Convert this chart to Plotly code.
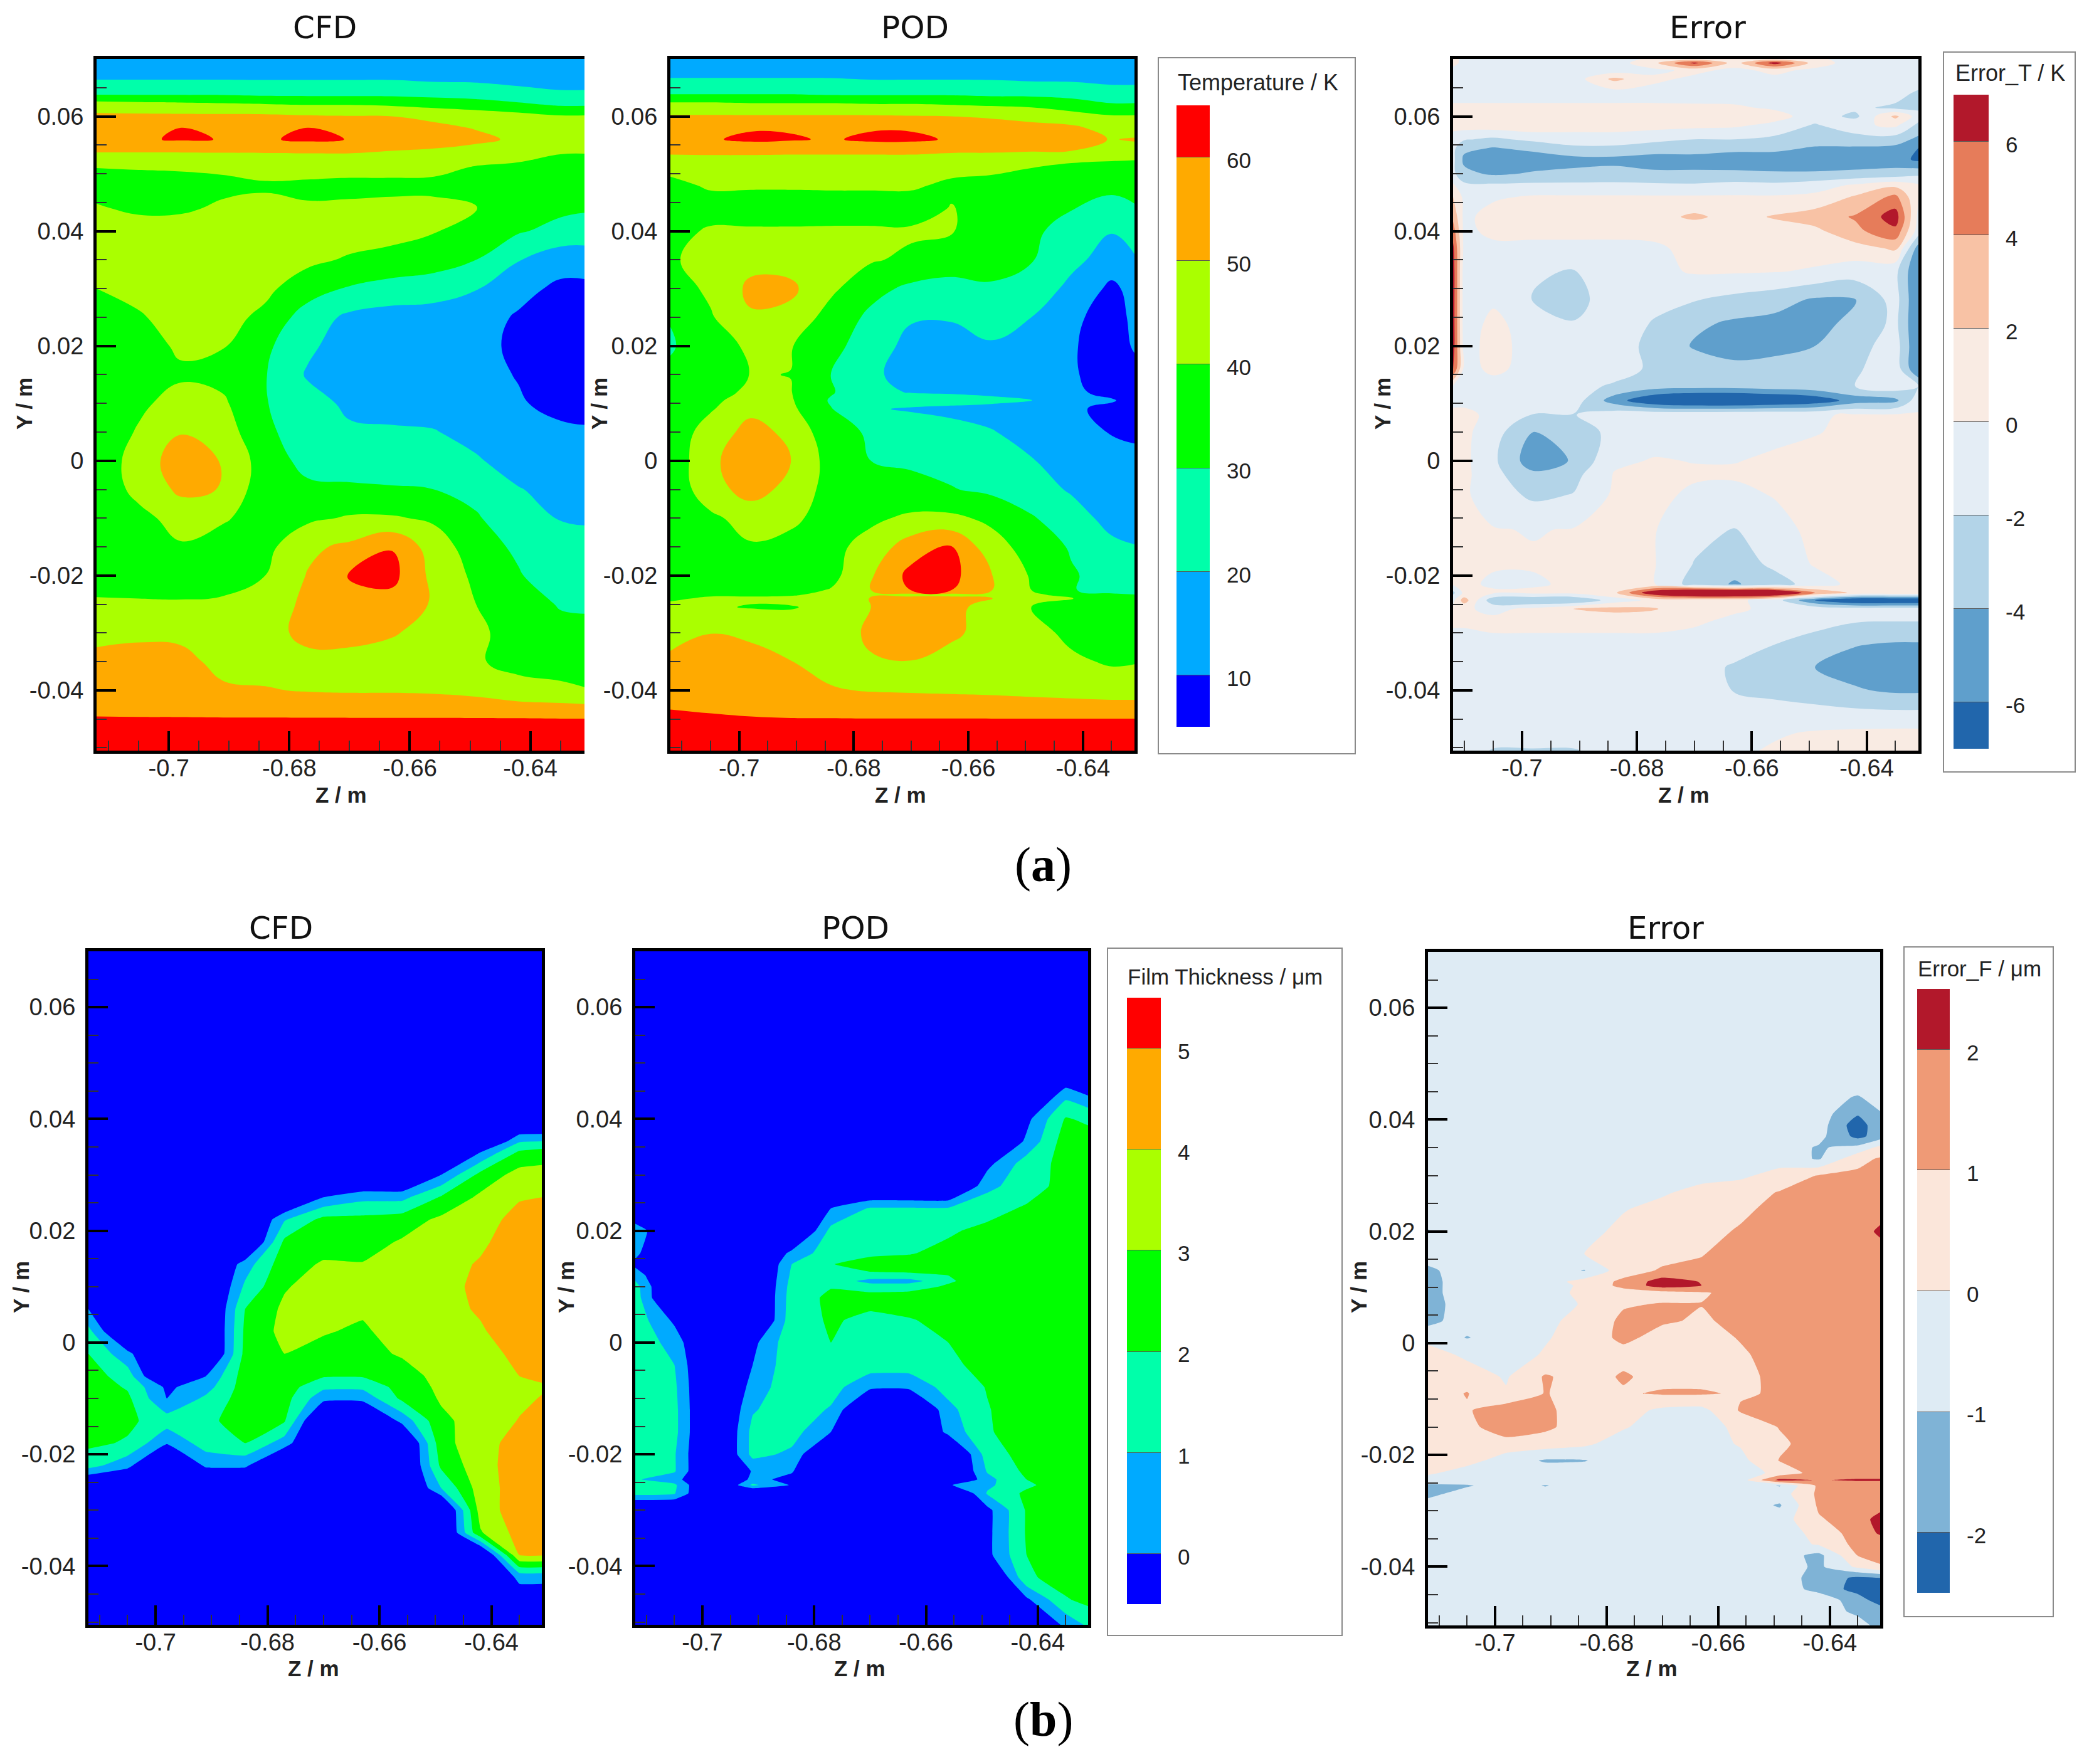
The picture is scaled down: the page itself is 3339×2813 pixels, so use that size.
import plotly.graph_objects as go

W, H = 3339, 2813

# shared grid for the panels (Z / m)
z_grid = [-.712, -.705, -.698, -.691, -.684, -.677, -.670, -.663, -.656, -.649, -.642, -.635, -.631]
z_grid_err = [-.712, -.7101, -.705, -.698, -.691, -.684, -.677, -.670, -.663, -.656, -.649, -.642, -.635, -.631]

x_ticks = [-.7, -.68, -.66, -.64]
x_tick_labels = ['-0.7', '-0.68', '-0.66', '-0.64']
y_ticks = [.06, .04, .02, 0, -.02, -.04]
y_tick_labels = ['0.06', '0.04', '0.02', '0', '-0.02', '-0.04']

temp_levels = [10, 20, 30, 40, 50, 60]
film_levels = [0, 1, 2, 3, 4, 5]
err_t_levels = [-6, -4, -2, 0, 2, 4, 6]
err_f_levels = [-2, -1, 0, 1, 2]

jet_colors = ['#0000ff', '#00aaff', '#00ffaa', '#00ff00', '#aaff00', '#ffaa00', '#ff0000']
err_t_colors = ['#2166ac', '#5f9fcc', '#b3d4e8', '#e4edf5', '#f9ebe3', '#f8c2a5', '#e67c5a', '#b2182b']
err_f_colors = ['#2166ac', '#7fb3d6', '#deebf4', '#fbe6da', '#ef9a76', '#b2182b']

# temperature, CFD
y_t_cfd = [.07, .067, .064, .062, .06, .058, .056, .054, .051, .048, .044, .04, .035, .03, .025, .02, .015, .01,
           .005, 0, -.005, -.01, -.015, -.02, -.025, -.03, -.035, -.04, -.045, -.0475, -.051]
t_cfd = [
    [13, 13, 13, 13, 13, 13, 13, 13, 13, 13, 13, 13, 13],
    [18, 18, 18, 18, 18, 18, 18, 18, 17, 17, 16, 16, 16],
    [28, 28, 28, 28, 27, 27, 27, 27, 26, 25, 23, 21, 21],
    [45, 44, 43, 42, 41, 40, 40, 39, 37, 35, 32, 29, 29],
    [52, 52, 52, 52, 52, 51, 50.5, 50, 48, 46, 44, 41, 41],
    [56, 58.5, 60, 58.8, 59, 60, 58.5, 55, 52, 49.5, 47, 44, 44],
    [56, 58.8, 61, 59.7, 58.8, 62, 59.7, 56, 54, 52, 48.5, 46, 46],
    [51, 51, 51, 51, 51, 51, 51, 50, 49, 47, 44, 41, 41],
    [40, 40.5, 41, 42, 43, 44, 44, 44, 43, 39, 38, 36, 35],
    [36, 36, 36, 37, 39, 38, 37, 37, 37, 36, 35, 35, 34],
    [41, 38, 38, 42, 42, 41, 42, 43, 43, 40.5, 36, 32, 31],
    [45, 45, 46, 47, 47, 46, 44, 43, 40.5, 36, 31, 27, 26],
    [44, 45, 46, 46, 45, 42, 39, 37, 35, 30, 20.5, 14, 14],
    [40, 43, 47, 46, 42, 35, 29, 26, 24, 20.5, 13, 8, 8],
    [36, 39, 44, 43, 38, 25, 18, 16, 16, 14, 9, 5, 5],
    [36, 36, 41.5, 40.5, 32, 22, 15, 14, 14, 13, 8, 5, 5],
    [35, 36, 38.5, 37, 30.5, 19, 14, 13, 13, 13, 9.5, 4, 4],
    [34, 38, 44, 41.5, 30.5, 24, 18, 17, 16, 14, 11, 7, 7],
    [33, 41, 49.5, 45, 32, 25, 21.5, 21, 20.5, 17, 14, 12, 11],
    [33, 44.7, 55, 49.4, 35, 27, 24, 24, 23, 21, 16, 14, 14],
    [33, 43, 52, 49.6, 33, 32, 32, 31, 30, 27, 20.5, 17, 16],
    [33, 37, 44, 41, 36, 38, 41, 41, 38.5, 31, 24, 19.5, 19],
    [35, 36, 39, 36, 37, 48, 52, 59.5, 45, 35, 28, 24, 23],
    [37, 36, 35, 35, 40, 50.5, 60.8, 63, 47, 38, 31, 23, 22],
    [41, 41, 41, 42, 45, 52, 56, 56, 49, 40, 36, 29, 29],
    [48, 49, 48.5, 45, 46, 53, 54, 51, 46, 41.5, 37, 34, 32],
    [52, 52, 52, 48, 47, 47, 46, 45, 44, 41, 37, 36, 36],
    [55, 54, 53, 51, 50.5, 49.5, 49, 49, 48.5, 47, 43.5, 42, 40.5],
    [60.5, 60.5, 60.5, 60.5, 60.5, 60.5, 60.5, 60.5, 60.5, 60.5, 60.5, 60.3, 60.3],
    [65, 65, 65, 65, 65, 65, 65, 65, 65, 65, 65, 65, 65],
    [68, 68, 68, 68, 68, 68, 68, 68, 68, 68, 68, 68, 68],
]

# temperature, POD
y_t_pod = [.07, .067, .064, .062, .06, .058, .056, .054, .051, .048, .044, .04, .035, .03, .025, .02, .015, .012,
           .0105, .009, .005, 0, -.005, -.01, -.015, -.02, -.0225, -.0233, -.024, -.0255, -.03, -.035, -.04, -.045,
           -.0475, -.051]
t_pod = [
    [13, 13, 13, 13, 13, 13, 13, 13, 13, 13, 13, 13, 13],
    [19, 19, 19, 19, 19, 18, 18, 18, 18, 17, 17, 16, 16],
    [29, 29, 29, 29, 28, 28, 28, 28, 27, 27, 26, 24, 24],
    [43, 43, 42, 42, 42, 41, 41, 40, 39, 38, 35, 31, 31],
    [51, 51, 51, 51, 51, 51, 50.5, 50, 49, 47, 44, 41, 41],
    [56, 57, 59, 59, 58, 59, 59, 56, 54, 53, 52, 46, 44],
    [57, 59, 62, 61, 59, 62, 62, 59, 55, 54, 54, 49.5, 51],
    [52, 52, 52, 52, 52, 52, 52, 51, 51, 50.5, 50, 46, 46],
    [43, 44, 44, 43, 43, 43, 43, 43, 42, 40, 36, 36, 35],
    [37, 41.5, 41.5, 41.5, 41.5, 41.5, 41.5, 38, 37, 36, 35, 33, 34],
    [35, 35, 34, 34, 35, 35, 35, 40.5, 36, 34, 30.5, 26, 29],
    [36, 41.5, 41.5, 41.5, 41.5, 41.5, 41.5, 40.5, 36, 32, 26, 20.5, 24],
    [38, 46, 47, 46, 45, 41, 38, 36, 36, 30.5, 23, 15, 19],
    [35, 42, 52, 52, 42, 33, 28, 26, 28, 27, 17, 8, 13],
    [30.5, 39, 49, 47, 36, 28, 21, 21, 24, 20, 12, 6, 12],
    [29, 36, 41.5, 40.5, 33, 25, 17, 15, 19, 16, 11, 5, 11],
    [32, 33, 40.3, 39.9, 30, 22, 16, 14, 14, 13, 11, 6, 7],
    [33, 36, 42, 40.3, 31, 22, 19.5, 19, 18, 15, 12, 7, 9],
    [33, 38, 44, 41, 29, 25, 24, 23, 22, 20.5, 13, 11, 6],
    [33, 39, 48, 42, 30.5, 21, 19, 18, 17, 15, 12, 7, 5],
    [33, 45, 53, 48, 33, 29, 27, 23, 20.5, 17, 14, 9.5, 8],
    [33, 48, 56, 50.3, 36, 30, 29, 27, 24, 20.5, 16, 13, 13],
    [33, 46, 54, 47, 36, 34, 32, 30.5, 28, 24, 19, 15, 14],
    [34, 38, 44, 42, 36, 38, 42, 42, 38, 31, 24, 17, 15],
    [35, 36, 39, 37, 37, 44, 55, 60.5, 44, 36, 29, 22, 20.5],
    [36, 34, 33, 33, 37, 49, 63, 63, 50.5, 39, 31, 26, 25],
    [37, 37, 37, 37, 40.5, 50, 60.3, 60.3, 50.5, 40, 30.5, 27, 26],
    [38, 39, 39, 39, 42, 47, 48, 48, 46, 42, 36, 31, 30],
    [39, 41, 41, 42, 45, 50.5, 52, 52, 50.2, 44, 40.2, 36, 35],
    [42, 41, 39.5, 39.5, 42, 50, 53, 53, 46, 40, 34, 30.5, 31],
    [45, 49.9, 49, 45, 44, 52, 55, 52, 46, 43, 38, 35, 35],
    [53, 53, 52, 50.2, 47, 49, 49.8, 46, 44, 43, 41.5, 39, 39.5],
    [56, 56, 55, 52, 50.7, 49.5, 49, 48.5, 48, 47, 46, 45, 45],
    [62, 61, 60.5, 60.3, 60.3, 60.2, 60.2, 60.2, 60.2, 60.2, 60.2, 60.2, 60.2],
    [65, 65, 65, 65, 65, 65, 65, 65, 65, 65, 65, 65, 65],
    [68, 68, 68, 68, 68, 68, 68, 68, 68, 68, 68, 68, 68],
]

# temperature error
y_t_err = [.07, .0693, .068, .0665, .064, .0615, .06, .0585, .056, .0545, .0525, .05, .048, .046, .0425, .04, .037,
           .033, .028, .024, .02, .016, .013, .0105, .008, .005, 0, -.0025, -.006, -.012, -.018, -.0215, -.023,
           -.0243, -.0258, -.028, -.032, -.036, -.04, -.044, -.0475, -.051]
t_err = [
    [.5, -.5, -1, -1, -1, -1, .5, 1, .5, 1, .5, -1, -1, -1],
    [.5, -.5, -1, -1, -1, -1, 1.5, 6.5, 1, 7, 1, -1, -1, -1],
    [-.5, -.5, -1, -1, -1, -1, -.5, .5, -.5, .5, -.5, -1, -1, -1],
    [-1, -1, -1, -1, -1, 2.5, .5, -.5, -.5, -.5, -.5, -.5, -.5, -.5],
    [-1, -1, -1, -1, -1, -1, -1, -1, -1, -1, -1, -1, -1, -2.5],
    [.5, .5, .5, .5, .5, .5, .5, .4, .3, -.3, -.5, -1.5, -2.5, -2.5],
    [1, 1, 1, 1, 1, 1, 1, 1, 1, .8, -1, -2.5, 2.5, -1],
    [.8, 1, 1.2, 1.5, 1, 1, .8, .6, .4, -.5, -2.2, -.5, .5, -2.5],
    [-1, -1.8, -2.4, -1.5, -1, -1, -1.5, -2, -2, -2.5, -3, -3, -3, -4.5],
    [-1.5, -3.5, -4.1, -3.5, -2.4, -2.4, -3, -3, -3.5, -3.5, -4.2, -4.2, -4.5, -6],
    [-1.5, -4.4, -5, -5, -4.6, -4.5, -4.8, -4.8, -4.9, -5, -5, -5, -5, -6.5],
    [-1.5, -3.5, -4.3, -3.8, -3.6, -3.4, -3.7, -3.7, -3.7, -3.8, -3.8, -3.6, -3.3, -2.5],
    [.3, -1.5, -1.6, -1.5, -1.5, -1.5, -1.6, -1.7, -1.3, -1.5, -.9, .3, 1.5, .3],
    [2, -.5, -.3, .2, .2, .2, .2, .2, .2, .2, .5, 2.2, 4.5, 0],
    [3.5, -.5, .8, 1, 1, 1, 1.2, 2.4, 1.2, 2.2, 3, 4.2, 7, -.5],
    [5, -.5, .5, .5, .5, .5, .5, .5, .5, 1, 1.5, 3.5, 5.5, -1],
    [6.5, -.5, -.5, -.5, -.5, -.5, -.3, .5, .7, .7, .8, 1.2, 2.3, -5],
    [7, -1, -.5, -1.8, -2.1, -.8, -.5, .2, .2, .1, -.2, -1, -1.5, -6],
    [7, -1, -.3, -2.1, -2.8, -.8, -1.2, -1.9, -2.6, -3.2, -4.3, -4.1, -1.2, -6],
    [7, -1, .5, -1, -1.9, -.5, -2.2, -3.6, -4.3, -4.6, -4.5, -3.6, -1.5, -6],
    [7, -.8, .7, -.8, -.8, -1.2, -2.5, -4.2, -4.8, -4.8, -4, -2.8, -1, -6],
    [6.2, -.5, .3, -.5, -.5, -1.3, -2.3, -2.9, -3.5, -3, -2.6, -2.3, -.8, -6],
    [-.2, -.5, -.5, -.8, -1.5, -2.2, -3, -3.2, -3.2, -2.8, -2.5, -2, -.8, -2],
    [-.5, -.5, -.5, -.8, -1, -5, -8, -9, -9, -8.5, -7.5, -5, -4.5, -.8],
    [.5, .5, -.5, -2.1, -2.1, -.8, -.4, -.3, -.2, -.2, -.2, .2, .2, .2],
    [.5, .5, -1.2, -4, -3.9, -1, -.7, -.6, -.5, -.3, -.1, .4, .5, .5],
    [.5, .5, -1.6, -5.2, -3.8, -.3, .1, -.05, -.05, .2, .6, .6, .6, .6],
    [.5, .5, -1.4, -3.5, -2.6, .1, .3, .2, .2, .3, .6, .6, .6, .6],
    [.5, .3, -1, -2.4, -1.9, .3, .4, -.3, -.5, .1, .6, .6, .6, .6],
    [.6, .5, .1, -.1, .1, .5, .1, -1.3, -2.1, -.7, .5, .6, .6, .6],
    [.6, .5, .2, .2, .5, .6, .1, -2.1, -3.2, -1.5, .2, .6, .6, .6],
    [.3, .4, -.3, -.3, .4, .6, .1, -2.9, -4.2, -3, -1, .6, .6, .6],
    [-2.5, .5, .3, .5, .5, 1.5, 8, 11, 11, 10, 4, 1.5, 1.5, 1.5],
    [-.5, 3, -3.5, -4, -4, -1, .5, .5, .5, -1, -6, -8.5, -8.5, -8.5],
    [.2, .3, -.5, .5, 2, 2.6, 2.2, .3, .2, -.3, -.6, -1, -1, -1],
    [.2, .2, .5, .5, .5, .5, .5, .2, -.3, -.8, -1.2, -1.9, -2, -2],
    [-.5, -.5, -.5, -.5, -.5, -.5, -.5, -.6, -.9, -2, -3, -3.9, -4.2, -4.2],
    [-.5, -.5, -.5, -.5, -.5, -.5, -.5, -1, -2.3, -3, -4, -4.8, -5, -5],
    [-.5, -.5, -.5, -.5, -.5, -.5, -.5, -1, -2.1, -2.6, -3.1, -3.8, -4.3, -4.3],
    [-.5, -.5, -.5, -.5, -.5, -.5, -.5, -.6, -.9, -1.1, -1.3, -1.5, -1.6, -1.6],
    [-.5, -.5, -.5, -.5, -.5, -.5, -.5, -.5, -.4, -.2, .2, .4, .5, .5],
    [-.5, -.5, -2.5, -2.5, -2.5, -1, -.5, -.5, -.3, .3, .5, .5, 1, 2],
]

# film thickness, CFD (o = no film)
o = -2
y_f_cfd = [.07, .04, .036, .034, .03, .026, .022, .018, .014, .01, .006, .002, -.002, -.006, -.008, -.01, -.014,
           -.018, -.022, -.026, -.03, -.034, -.038, -.042, -.051]
f_cfd = [
    [o, o, o, o, o, o, o, o, o, o, o, o, o],
    [o, o, o, o, o, o, o, o, o, o, o, o, o],
    [o, o, o, o, o, o, o, o, o, o, o, .9, 1],
    [o, o, o, o, o, o, o, o, o, o, 0, 2.2, 2.5],
    [o, o, o, o, o, o, o, o, o, 0, 2.3, 3.4, 3.4],
    [o, o, o, o, o, o, 0, .7, .7, 2.1, 3.2, 3.9, 4],
    [o, o, o, o, o, .9, 2.3, 2.3, 2.5, 3.2, 3.5, 4.4, 4.5],
    [o, o, o, o, o, 2.2, 2.6, 2.6, 3.1, 3.5, 3.8, 4.6, 4.7],
    [o, o, o, o, .5, 2.6, 3.1, 3.05, 3.3, 3.6, 4.1, 4.7, 4.8],
    [o, o, o, o, 1.2, 2.9, 3.5, 3.5, 3.6, 3.7, 4.2, 4.9, 4.9],
    [0, o, o, o, 2, 3.2, 3.4, 3.1, 3.5, 3.7, 4.1, 4.8, 4.8],
    [1.3, o, o, o, 2.2, 3.3, 3.05, 2.9, 3.3, 3.6, 3.9, 4.5, 4.6],
    [2, .3, o, o, 2.3, 3, 2.8, 2.7, 3.1, 3.5, 3.7, 4.2, 4.3],
    [2.5, 1.5, o, 0, 2.5, 2.6, 2.1, 2.1, 2.6, 3.3, 3.5, 4, 4.15],
    [2.6, 1.9, -.2, .6, 2.5, 2.5, 1.2, 1.2, 2.4, 3.2, 3.4, 3.85, 3.9],
    [2.7, 2.2, 0, 1.2, 2.5, 2.4, .3, .3, 2.2, 3.1, 3.3, 3.8, 4.05],
    [2.7, 2.2, 1.5, 1.7, 2.6, 2.1, o, o, .3, 2.8, 3.4, 4.05, 4.3],
    [2.2, 1.9, .1, 1.5, 2, .5, o, o, o, 2.6, 3.7, 4.3, 4.5],
    [1.4, .3, o, .2, .2, o, o, o, o, 2.2, 3.6, 4.5, 4.7],
    [o, o, o, o, o, o, o, o, o, 1, 3.5, 4.5, 4.7],
    [o, o, o, o, o, o, o, o, o, o, 3.4, 4.6, 4.8],
    [o, o, o, o, o, o, o, o, o, o, 2.9, 4.4, 4.5],
    [o, o, o, o, o, o, o, o, o, o, o, 4.05, 4.1],
    [o, o, o, o, o, o, o, o, o, o, o, .3, .3],
    [o, o, o, o, o, o, o, o, o, o, o, o, o],
]

# film thickness, POD
y_f_pod = [.07, .046, .044, .04, .036, .032, .028, .024, .02, .016, .014, .012, .011, .01, .008, .004, 0, -.004,
           -.008, -.012, -.016, -.02, -.023, -.0245, -.0255, -.027, -.03, -.034, -.038, -.042, -.046, -.051]
f_pod = [
    [o, o, o, o, o, o, o, o, o, o, o, o, o],
    [o, o, o, o, o, o, o, o, o, o, o, -.2, o],
    [o, o, o, o, o, o, o, o, o, o, o, .8, .2],
    [o, o, o, o, o, o, o, o, o, o, -.3, 2.1, 1.8],
    [o, o, o, o, o, o, o, o, o, o, .2, 2.5, 2.5],
    [o, o, o, o, o, o, o, o, o, -.3, 1.5, 2.3, 2.5],
    [o, o, o, o, o, o, o, o, o, .7, 1.6, 2.3, 2.5],
    [o, o, o, o, o, 0, 1.1, 1.1, 1.1, 1.7, 2.1, 2.4, 2.5],
    [.9, o, o, o, o, 1.3, 1.4, 1.4, 1.9, 2.2, 2.4, 2.5, 2.5],
    [.3, o, o, o, .3, 1.6, 1.9, 1.95, 2.2, 2.5, 2.5, 2.5, 2.5],
    [-.3, o, o, o, 1, 1.98, 2.2, 2.3, 2.5, 2.6, 2.6, 2.6, 2.6],
    [.7, o, o, o, 1.2, 2, 1.9, 1.9, 2, 2.5, 2.6, 2.6, 2.6],
    [1, o, o, o, 1.3, 1.9, .5, .5, 1.9, 2.4, 2.6, 2.6, 2.6],
    [1.4, o, o, o, 1.4, 1.95, 1.7, 1.7, 2.1, 2.5, 2.6, 2.6, 2.6],
    [1.5, o, o, o, 1.5, 2.2, 2.3, 2.4, 2.6, 2.6, 2.6, 2.6, 2.6],
    [1.6, -.2, o, o, 1.6, 2.1, 1.8, 1.95, 2.2, 2.6, 2.6, 2.6, 2.6],
    [1.7, .6, o, -.3, 1.7, 2, 1.7, 1.7, 2, 2.5, 2.6, 2.6, 2.6],
    [1.8, 1, o, 0, 1.7, 1.7, 1.5, 1.5, 1.8, 2.3, 2.6, 2.6, 2.6],
    [1.8, 1.2, o, .4, 1.7, 1.4, .2, .2, 1.4, 2.05, 2.5, 2.6, 2.6],
    [1.8, 1.3, o, .9, 1.6, .9, o, o, .7, 1.95, 2.5, 2.6, 2.6],
    [1.8, 1.3, o, 1.3, 1.4, 0, o, o, .3, 1.9, 2.5, 2.6, 2.6],
    [1.7, 1.1, o, 1.3, .8, o, o, o, o, 1.5, 2.4, 2.6, 2.6],
    [1.4, 1.1, o, .1, .1, o, o, o, o, 1.1, 2.2, 2.6, 2.6],
    [1.1, .5, o, .3, -.3, o, o, o, o, .7, 2, 2.6, 2.6],
    [1.5, 1.2, o, 1.2, -.1, o, o, o, -.1, .8, 1.8, 2.6, 2.6],
    [1.3, 1.1, o, o, o, o, o, o, o, 1.1, 2.2, 2.6, 2.6],
    [o, o, o, o, o, o, o, o, o, -.3, 2.1, 2.5, 2.6],
    [o, o, o, o, o, o, o, o, o, -.3, 2.1, 2.4, 2.5],
    [o, o, o, o, o, o, o, o, o, -.3, 2, 2.4, 2.5],
    [o, o, o, o, o, o, o, o, o, o, 1.8, 2.5, 2.5],
    [o, o, o, o, o, o, o, o, o, o, -.2, 1.9, 2.3],
    [o, o, o, o, o, o, o, o, o, o, o, .1, 1],
]

# film thickness error
y_f_err = [.07, .046, .044, .041, .039, .037, .035, .033, .03, .027, .024, .02, .016, .013, .011, .0103, .009, .007,
           .004, .001, -.002, -.006, -.009, -.012, -.015, -.018, -.021, -.0232, -.0245, -.0255, -.027, -.029,
           -.0315, -.034, -.036, -.038, -.04, -.042, -.044, -.046, -.048, -.051]
f_err = [
    [-.5, -.5, -.5, -.5, -.5, -.5, -.5, -.5, -.5, -.5, -.5, -.5, -.5],
    [-.5, -.5, -.5, -.5, -.5, -.5, -.5, -.5, -.5, -.5, -.5, -.5, -.5],
    [-.5, -.5, -.5, -.5, -.5, -.5, -.5, -.5, -.5, -.5, -.5, -1.1, -.5],
    [-.5, -.5, -.5, -.5, -.5, -.5, -.5, -.5, -.5, -.5, -.5, -1.9, -1.1],
    [-.5, -.5, -.5, -.5, -.5, -.5, -.5, -.5, -.5, -.5, -.5, -2.6, -1.2],
    [-.5, -.5, -.5, -.5, -.5, -.5, -.5, -.5, -.5, -.5, -.7, -2.3, -1.5],
    [-.5, -.5, -.5, -.5, -.5, -.5, -.5, -.5, -.5, -.5, -1.1, -.7, .3],
    [-.5, -.5, -.5, -.5, -.5, -.5, -.5, -.5, -.5, -.5, -1.1, .7, 1.1],
    [-.5, -.5, -.5, -.5, -.5, -.5, -.5, -.5, -.2, .4, 1.05, 1.2, 1.5],
    [-.5, -.5, -.5, -.5, -.5, -.5, -.2, .5, .6, 1.05, 1.4, 1.5, 1.5],
    [-.5, -.5, -.5, -.5, -.5, -.1, .5, .6, .8, 1.3, 1.5, 1.5, 1.5],
    [-1.05, -.5, -.5, -.5, -.5, .4, .6, .7, 1.1, 1.5, 1.5, 1.5, 2.2],
    [-.5, -.5, -.5, -.5, 0, .5, .7, .95, 1.4, 1.5, 1.5, 1.5, 1.5],
    [-1.2, -.5, -.5, -.5, -1.05, .6, 1.1, 1.2, 1.5, 1.5, 1.5, 1.5, 1.5],
    [-1.3, -.5, -.5, -.5, .4, 1.2, 2.5, 1.95, 1.5, 1.5, 1.5, 1.5, 1.5],
    [-1.3, -.5, -.5, -.5, .2, 1.3, 2.5, 2, 1.5, 1.5, 1.5, 1.5, 1.5],
    [-1.3, -.5, -.5, -.5, .3, .5, .6, .9, 1.3, 1.5, 1.5, 1.5, 1.5],
    [-1.4, -.5, -.5, -.5, .1, .9, 1.05, 1.02, 1.4, 1.5, 1.5, 1.5, 1.5],
    [-1.3, -.5, -.5, -.2, .3, 1.2, 1.1, .9, 1.2, 1.5, 1.5, 1.5, 1.5],
    [-.3, -1.05, -.5, -.1, .5, 1.2, .7, .7, 1.05, 1.5, 1.5, 1.5, 1.5],
    [.4, -.2, -.5, .1, .5, .7, .5, .6, .9, 1.3, 1.5, 1.5, 1.5],
    [.5, .5, -.1, 1.1, .6, 1.1, .7, .7, .8, 1.2, 1.5, 1.5, 1.5],
    [.5, 1.05, .1, 1.05, .6, .9, 1.1, 1.1, .9, 1.1, 1.5, 1.5, 1.5],
    [.5, .9, 1.6, 1.2, .5, .4, -.2, -.3, 1.1, 1.2, 1.5, 1.5, 1.5],
    [.5, .7, 1.6, 1.2, .5, .1, -.5, -.5, .3, 1.05, 1.5, 1.5, 1.5],
    [.5, .5, .6, .5, .2, -.5, -.5, -.5, .1, .8, 1.5, 1.5, 1.5],
    [.1, .4, -.5, -1.1, -1.05, -.5, -.5, -.5, -.3, 1.05, 1.5, 1.5, 1.5],
    [.2, -.5, -.5, -.5, -.5, -.5, -.5, -.5, -.5, .3, 1.5, 1.5, 1.5],
    [-.5, -.5, -.5, -.5, -.5, -.5, -.5, -.5, -.5, 2.3, 1.95, 2.1, 2.1],
    [-1.2, -1.1, -.5, -1.05, -.5, -.5, -.5, -.5, -.5, -1.05, 1.2, 1.5, 1.5],
    [-1.3, -.5, -.5, -.5, -.5, -.5, -.5, -.5, -.5, -.5, 1.2, 1.5, 1.5],
    [-.5, -.5, -.5, -.5, -.5, -.5, -.5, -.5, -.5, -1.1, 1.15, 1.5, 1.6],
    [-.5, -.5, -.5, -.5, -.5, -.5, -.5, -.5, -.5, -.5, .9, 1.5, 2.4],
    [-.5, -.5, -.5, -.5, -.5, -.5, -.5, -.5, -.5, -.5, .3, 1.5, 2.1],
    [-.5, -.5, -.5, -.5, -.5, -.5, -.5, -.5, -.5, -.5, .1, 1.3, 1.5],
    [-.5, -.5, -.5, -.5, -.5, -.5, -.5, -.5, -.5, -.5, -1.3, 1.02, 1.3],
    [-.5, -.5, -.5, -.5, -.5, -.5, -.5, -.5, -.5, -.5, -1.2, .2, .9],
    [-.5, -.5, -.5, -.5, -.5, -.5, -.5, -.5, -.5, -.5, -1.4, -2.2, -2],
    [-.5, -.5, -.5, -.5, -.5, -.5, -.5, -.5, -.5, -.5, -1.3, -2.4, -2.5],
    [-.5, -.5, -.5, -.5, -.5, -.5, -.5, -.5, -.5, -.5, -.4, -1.5, -2.5],
    [-.5, -.5, -.5, -.5, -.5, -.5, -.5, -.5, -.5, -.5, -.5, -1.2, -1.4],
    [-.5, -.5, -.5, -.5, -.5, -.5, -.5, -.5, -.5, -.5, -.5, -.5, -1.2],
]


# the page has an 8 px body margin, so pixel positions are shifted back by it
def fx(px):
    return (px - 8) / W


def fy(py):
    return 1 - (py - 8) / H


def scale_of(colors):
    n = len(colors) - 1
    return [[i / n, c] for i, c in enumerate(colors)]


fig = go.Figure()
annos = []
n_axes = 0


def text(px, py, s, size, family='Liberation Sans', color='#222222', angle=0, xanchor='center'):
    annos.append(dict(x=fx(px), y=fy(py), xref='paper', yref='paper', text=s, showarrow=False, xanchor=xanchor,
                      yanchor='middle', textangle=angle, font=dict(family=family, size=size, color=color)))


def legend_bar(box, levels, colors):
    global n_axes
    n_axes += 1
    n = n_axes
    l, r, t, b = box
    step = levels[1] - levels[0]
    edges = [levels[0] - step / 2] + levels + [levels[-1] + step / 2]
    mids = [levels[0] - step / 2] + [v + step / 2 for v in levels]
    fig.add_trace(go.Heatmap(x=[0, 1], y=edges, z=[[m] for m in mids], colorscale=scale_of(colors), zmin=mids[0],
                             zmax=mids[-1], showscale=False, xaxis='x%d' % n, yaxis='y%d' % n, hoverinfo='skip'))
    fig.update_layout(**{
        'xaxis%d' % n: dict(domain=[fx(l), fx(r)], range=[0, 1], visible=False, anchor='y%d' % n),
        'yaxis%d' % n: dict(domain=[fy(b), fy(t)], range=[edges[0], edges[-1]], side='right', anchor='x%d' % n,
                            tickmode='array', tickvals=levels, ticktext=[str(v) for v in levels], ticks='inside',
                            ticklen=r - l, tickwidth=1, tickcolor='#555555', showgrid=False, zeroline=False,
                            showline=False, ticklabelstandoff=26, ticklabelshift=5,
                            tickfont=dict(family='Liberation Sans', size=35, color='#222222')),
    })


def panel(box, xs, ys, zs, levels, colors, smooth, right_line=True):
    global n_axes
    n_axes += 1
    n = n_axes
    l, r, t, b = box
    step = levels[1] - levels[0]
    # rows are listed top to bottom
    fig.add_trace(go.Contour(x=xs, y=ys[::-1], z=zs[::-1], xaxis='x%d' % n, yaxis='y%d' % n, autocontour=False,
                             contours=dict(start=levels[0], end=levels[-1], size=step, coloring='fill',
                                           showlines=False),
                             line=dict(width=0, smoothing=smooth), colorscale=scale_of(colors),
                             zmin=levels[0] - step / 2, zmax=levels[-1] + step / 2, showscale=False,
                             hoverinfo='skip'))
    axis = dict(ticks='inside', ticklen=31, tickwidth=4, tickcolor='black', showgrid=False, zeroline=False,
                showline=True, linecolor='black', linewidth=5, mirror=True,
                tickfont=dict(family='Liberation Sans', size=38, color='#222222'),
                minor=dict(ticks='inside', ticklen=16, tickwidth=2, tickcolor='#333333', dtick=.005, tick0=0,
                           showgrid=False))
    suffix = '' if n == 1 else str(n)
    # the axis lines are drawn just outside the domain
    fig.update_layout(**{
        'xaxis' + suffix: dict(axis, domain=[fx(l + 3), fx(r - 2)], range=[-.712, -.631], anchor='y' + suffix,
                               tickmode='array', tickvals=x_ticks, ticktext=x_tick_labels, ticklabelstandoff=-10),
        'yaxis' + suffix: dict(axis, domain=[fy(b - 2), fy(t + 3)], range=[-.0505, .07], anchor='x' + suffix,
                               tickmode='array', tickvals=y_ticks, ticktext=y_tick_labels, ticklabelstandoff=8,
                               mirror=True if right_line else False),
    })


panel((151, 934, 91, 1199), z_grid, y_t_cfd, t_cfd, temp_levels, jet_colors, 1.2, right_line=False)
panel((1066, 1811, 91, 1199), z_grid, y_t_pod, t_pod, temp_levels, jet_colors, 1.2)
panel((2314, 3061, 91, 1199), z_grid_err, y_t_err, t_err, err_t_levels, err_t_colors, 1.0)
panel((138, 866, 1514, 2593), z_grid, y_f_cfd, f_cfd, film_levels, jet_colors, 0.3)
panel((1010, 1737, 1514, 2593), z_grid, y_f_pod, f_pod, film_levels, jet_colors, 0.3)
panel((2274, 3000, 1515, 2594), z_grid, y_f_err, f_err, err_f_levels, err_f_colors, 0.5)

legend_bar((1876, 1929, 168, 1159), temp_levels, jet_colors)
legend_bar((3115, 3171, 151, 1194), err_t_levels, err_t_colors)
legend_bar((1797, 1851, 1591, 2558), film_levels, jet_colors)
legend_bar((3057, 3109, 1577, 2540), err_f_levels, err_f_colors)

# legend boxes
for x0, x1, y0, y1 in [(1847, 2161, 92, 1202), (3099, 3309, 83, 1231), (1766, 2140, 1512, 2608), (3036, 3274, 1510, 2578)]:
    fig.add_shape(type='rect', xref='paper', yref='paper', x0=fx(x0), x1=fx(x1), y0=fy(y0), y1=fy(y1),
                  line=dict(color='#8a8a8a', width=2), layer='below')

title_font = 'DejaVu Sans'
for px, py, s in [(518, 44, 'CFD'), (1459, 44, 'POD'), (2723, 44, 'Error'),
                  (448, 1480, 'CFD'), (1364, 1480, 'POD'), (2656, 1480, 'Error')]:
    text(px, py, s, 50, family=title_font, color='#111111')

for px, py in [(544, 1267), (1436, 1267), (2685, 1267), (500, 2660), (1371, 2660), (2634, 2660)]:
    text(px, py, '<b>Z / m</b>', 35)
for px, py in [(38, 644), (955, 644), (2204, 644), (33, 2053), (902, 2053), (2166, 2053)]:
    text(px, py, '<b>Y / m</b>', 35, angle=-90)

text(1876, 132, 'Temperature / K', 36, xanchor='left')
text(3116, 116, 'Error_T / K', 36, xanchor='left')
text(1796, 1557, 'Film Thickness / μm', 35, xanchor='left')
text(3056, 1544, 'Error_F / μm', 35, xanchor='left')

text(1663, 1378, '(<b>a</b>)', 78, family='Liberation Serif', color='#000000')
text(1663, 2741, '(<b>b</b>)', 78, family='Liberation Serif', color='#000000')

fig.update_layout(width=W, height=H, margin=dict(l=0, r=0, t=0, b=0), paper_bgcolor='white', plot_bgcolor='white',
                  showlegend=False, annotations=annos)
fig.write_html('out.html')
